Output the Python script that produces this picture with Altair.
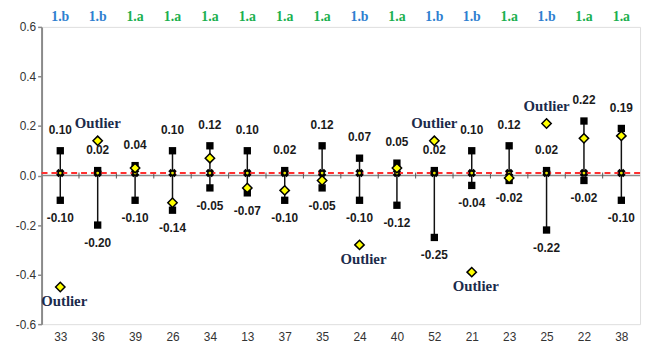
import altair as alt
import pandas as pd

cats = ["33", "36", "39", "26", "34", "13", "37", "35", "24", "40", "52", "21", "23", "25", "22", "38"]
groups = ["1.b", "1.b", "1.a", "1.a", "1.a", "1.a", "1.a", "1.a", "1.b", "1.a", "1.b", "1.b", "1.a", "1.b", "1.a", "1.a"]
upper = [0.10, 0.02, 0.04, 0.10, 0.12, 0.10, 0.02, 0.12, 0.07, 0.05, 0.02, 0.10, 0.12, 0.02, 0.22, 0.19]
lower = [-0.10, -0.20, -0.10, -0.14, -0.05, -0.07, -0.10, -0.05, -0.10, -0.12, -0.25, -0.04, -0.02, -0.22, -0.02, -0.10]
value = [-0.45, 0.14, 0.03, -0.11, 0.07, -0.05, -0.06, -0.02, -0.28, 0.03, 0.14, -0.39, -0.01, 0.21, 0.15, 0.16]
outlier = ["below", "above", "", "", "", "", "", "", "below", "", "above", "below", "", "above", "", ""]
center = 0.01

n = len(cats)
df = pd.DataFrame({
    "cat": cats,
    "pos": [i + 0.5 for i in range(n)],
    "group": groups,
    "upper": upper,
    "lower": lower,
    "value": value,
    "outlier": outlier,
    "center": [center] * n,
})
df["upper_lbl"] = [f"{v:.2f}" for v in upper]
df["lower_lbl"] = [f"{v:.2f}" for v in lower]
df["out_lbl"] = ["Outlier" if o else "" for o in outlier]

xscale = alt.Scale(domain=[0, n], nice=False, zero=False)
yscale = alt.Scale(domain=[-0.6, 0.6], nice=False)

label_arr = "[" + ",".join(f"'{c}'" for c in cats) + "]"
xaxis = alt.Axis(values=[i + 0.5 for i in range(n)], labelExpr=f"{label_arr}[floor(datum.value)]",
                 ticks=False, domain=False, grid=False, title=None, labelPadding=8,
                 labelFont="Liberation Sans", labelFontSize=12, labelColor="#333333")
yaxis = alt.Axis(values=[-0.6, -0.4, -0.2, 0.0, 0.2, 0.4, 0.6],
                 labelExpr="datum.value < 0 ? '-' + format(-datum.value, '.1f') : format(datum.value, '.1f')",
                 grid=False, title=None, domainColor="#8a8a8a", domainWidth=2, tickColor="#8a8a8a",
                 tickSize=4, tickWidth=1.5, labelFont="Liberation Sans", labelFontSize=12, labelColor="#333333",
                 labelPadding=2)

X = alt.X("pos:Q", scale=xscale, axis=xaxis, title=None)
Y = lambda f: alt.Y(f, scale=yscale, axis=yaxis, title=None)
base = alt.Chart(df)

bounds = pd.DataFrame({"pos": list(range(1, n)), "a": [-0.012] * (n - 1), "b": [0.012] * (n - 1)})
btick = alt.Chart(bounds).mark_rule(color="#555555", strokeWidth=1).encode(
    x=X, y=Y("a:Q"), y2="b:Q",
)
zero = alt.Chart(pd.DataFrame({"pos": [0], "x1": [n], "y": [0.0]})).mark_rule(color="#8a8a8a", strokeWidth=1.5).encode(
    x=X, x2="x1:Q", y=Y("y:Q"),
)
red = alt.Chart(pd.DataFrame({"pos": [0], "x1": [n], "y": [center]})).mark_rule(
    color="#ff3030", strokeWidth=2, strokeDash=[6, 4]).encode(
    x=X, x2="x1:Q", y=Y("y:Q"),
)
vline = base.mark_rule(color="#111111", strokeWidth=1.5).encode(x=X, y=Y("lower:Q"), y2="upper:Q")
sq_up = base.mark_point(shape="square", filled=True, color="#000000", size=55, opacity=1).encode(x=X, y=Y("upper:Q"))
sq_lo = base.mark_point(shape="square", filled=True, color="#000000", size=55, opacity=1).encode(x=X, y=Y("lower:Q"))
xmark = base.mark_point(shape="cross", angle=45, filled=True, color="#000000", size=75, opacity=1).encode(
    x=X, y=Y("center:Q"))
xdot = base.mark_point(shape="circle", filled=True, color="#e8e800", size=8, opacity=1).encode(
    x=X, y=Y("center:Q"))
diam = base.mark_point(shape="diamond", filled=True, fill="#ffff00", stroke="#000000", strokeWidth=1.5,
                       size=90, opacity=1).encode(x=X, y=Y("value:Q"))

numfont = dict(font="Liberation Sans", fontWeight="bold", fontSize=12, color="#1a1a1a", align="center", baseline="middle")
t_up = base.mark_text(dy=-21, **numfont).encode(x=X, y=Y("upper:Q"), text="upper_lbl:N")
t_lo = base.mark_text(dy=18, **numfont).encode(x=X, y=Y("lower:Q"), text="lower_lbl:N")

outfont = dict(font="Liberation Serif", fontWeight="bold", fontSize=15, color="#1b2b4b", align="center", baseline="middle")
t_oa = base.transform_filter("datum.outlier == 'above'").mark_text(dy=-18, **outfont).encode(
    x=X, y=Y("value:Q"), text="out_lbl:N")
t_ob = base.transform_filter("datum.outlier == 'below'").mark_text(dy=14, dx=4, **outfont).encode(
    x=X, y=Y("value:Q"), text="out_lbl:N")

top = base.mark_text(font="Liberation Serif", fontWeight="bold", fontSize=14, align="center", baseline="middle").encode(
    x=X, y=alt.value(-10), text="group:N",
    color=alt.Color("group:N", scale=alt.Scale(domain=["1.b", "1.a"], range=["#2f80d0", "#1cb050"]), legend=None))

chart = alt.layer(zero, btick, red, vline, sq_up, sq_lo, xmark, xdot, diam, t_up, t_lo, t_oa, t_ob, top).properties(
    width=606, height=301,
    autosize=alt.AutoSizeParams(type="none"),
    padding={"left": 34, "top": 17, "right": 5, "bottom": 20},
).configure_view(stroke="#9a9a9a", strokeWidth=1.5).configure(background="white")

chart.save("out.html", embed_options={"renderer": "svg", "actions": False})
